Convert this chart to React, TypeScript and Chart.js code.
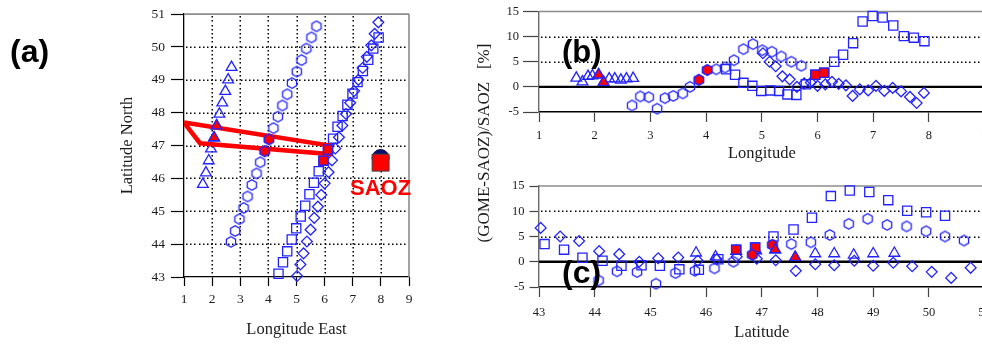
import React, { useEffect, useRef } from 'react';
import { Chart, registerables } from 'chart.js';

Chart.register(...registerables);

// ---------------- data ----------------
// Four GOME overpass tracks: ground-pixel longitude (°E), latitude (°N)
// and relative difference (GOME-SAOZ)/SAOZ in %.
const triLon = [1.67, 1.78, 1.88, 1.96, 2.07, 2.16, 2.26, 2.36, 2.47, 2.57, 2.69];
const triLat = [45.82, 46.17, 46.54, 46.9, 47.24, 47.6, 47.96, 48.3, 48.65, 49.0, 49.38];
const triDiff = [1.75, 1.0, 2.1, 2.2, 2.4, 0.9, 1.6, 1.6, 1.35, 1.6, 1.7];
const triSelected = [4, 5];

const hexLon = [2.67, 2.82, 2.97, 3.12, 3.26, 3.41, 3.58, 3.71, 3.87, 4.02, 4.18, 4.34, 4.5, 4.67, 4.84, 5.01, 5.18, 5.35, 5.53, 5.71];
const hexLat = [44.07, 44.4, 44.76, 45.1, 45.45, 45.8, 46.15, 46.49, 46.83, 47.19, 47.53, 47.88, 48.22, 48.56, 48.9, 49.25, 49.6, 49.95, 50.29, 50.63];
const hexDiff = [-3.7, -1.9, -2.05, -4.35, -2.25, -1.8, -1.3, 0.0, 1.4, 3.35, 3.5, 3.85, 5.3, 7.5, 8.5, 7.3, 7.0, 6.05, 5.0, 4.2];
const hexSelected = [8, 9];

const sqLon = [4.36, 4.52, 4.67, 4.83, 4.99, 5.15, 5.31, 5.46, 5.62, 5.79, 5.96, 6.12, 6.3, 6.46, 6.64, 6.81, 6.99, 7.17, 7.36, 7.55, 7.73, 7.92];
const sqLat = [43.1, 43.45, 43.78, 44.14, 44.48, 44.84, 45.17, 45.52, 45.87, 46.22, 46.54, 46.88, 47.21, 47.57, 47.9, 48.24, 48.58, 48.93, 49.27, 49.61, 49.95, 50.29];
const sqDiff = [3.5, 2.4, 0.8, 0.2, -0.8, -0.7, -0.8, -1.5, -1.6, 0.5, 2.4, 2.8, 5.0, 6.4, 8.7, 13.0, 14.1, 13.8, 12.2, 10.1, 9.8, 9.1];
const sqSelected = [10, 11];

const dmLon = [5.02, 5.14, 5.25, 5.37, 5.5, 5.63, 5.76, 5.88, 6.0, 6.14, 6.26, 6.38, 6.51, 6.63, 6.76, 6.91, 7.05, 7.2, 7.35, 7.5, 7.66, 7.78, 7.91];
const dmLat = [43.03, 43.38, 43.72, 44.08, 44.44, 44.8, 45.14, 45.5, 45.85, 46.19, 46.55, 46.91, 47.25, 47.61, 47.96, 48.3, 48.66, 49.0, 49.36, 49.7, 50.05, 50.4, 50.75];
const dmDiff = [6.7, 5.0, 4.1, 2.1, 1.5, 0.0, 0.7, 0.85, 0.2, 0.5, 1.0, 0.6, 0.3, -1.8, -0.5, -0.7, 0.2, -0.8, -0.2, -0.9, -2.0, -3.2, -1.2];

// Collocation area outline (red polygon) in panel (a)
const polyLon = [1.0, 1.57, 6.15, 6.18, 1.0];
const polyLat = [47.7, 47.07, 46.74, 47.0, 47.7];

// SAOZ station
const saozLon = [7.99];
const saozLat = [46.48];
const saozCircleLat = [46.62];

// axis ranges and dotted grid positions
const mapLonRange = [1, 9];
const mapLatRange = [43, 51];
const diffRange = [-5, 15];
const mapLonGrid = [2, 3, 4, 5, 6, 7, 8];
const mapLatGrid = [44, 45, 46, 47, 48, 49, 50];
const diffGrid = [5, 10];

// ---------------- styling ----------------
const BLUE = '#2323ff';
const RED = '#ff0000';
const NONE = 'rgba(0,0,0,0)';
const SERIF = "'Liberation Serif', 'Times New Roman', Times, serif";
const SANS = "'Liberation Sans', Arial, Helvetica, sans-serif";
const INK = '#1c1c1c';

Chart.defaults.font.family = SERIF;

const xy = (xs: number[], ys: number[]) => xs.map((x, i) => ({ x, y: ys[i] }));
const pick = (arr: any[], idx: number[]) => idx.map((i) => arr[i]);

function hexImage(fill: string, stroke: string, r: number, lw: number) {
  const size = Math.ceil(2 * r + lw * 2 + 2);
  const c = document.createElement('canvas');
  c.width = size;
  c.height = size;
  const g = c.getContext('2d') as CanvasRenderingContext2D;
  g.beginPath();
  for (let i = 0; i < 6; i++) {
    const a = Math.PI / 2 + (i * Math.PI) / 3;
    const px = size / 2 + r * Math.cos(a);
    const py = size / 2 + r * Math.sin(a);
    if (i === 0) g.moveTo(px, py);
    else g.lineTo(px, py);
  }
  g.closePath();
  if (fill) {
    g.fillStyle = fill;
    g.fill();
  }
  g.strokeStyle = stroke;
  g.lineWidth = lw;
  g.stroke();
  return c;
}

function markerDatasets(useLat: boolean, useDiff: boolean) {
  const hexBlue = hexImage('', BLUE, 5.3, 1.3);
  const hexRed = hexImage(RED, BLUE, 5.3, 1.3);
  const tracks = [
    { lon: triLon, lat: triLat, diff: triDiff, sel: triSelected, style: 'triangle', r: 6.2 },
    { lon: hexLon, lat: hexLat, diff: hexDiff, sel: hexSelected, style: 'hex', r: 5 },
    { lon: sqLon, lat: sqLat, diff: sqDiff, sel: sqSelected, style: 'rect', r: 6.5 },
    { lon: dmLon, lat: dmLat, diff: dmDiff, sel: [] as number[], style: 'rectRot', r: 5.4 },
  ];
  const sets: any[] = [];
  for (const t of tracks) {
    const xs = useDiff ? (useLat ? t.lat : t.lon) : t.lon;
    const ys = useDiff ? t.diff : t.lat;
    const pts = xy(xs, ys);
    const common = {
      clip: false,
      pointRadius: t.r,
      pointBorderWidth: 1.3,
      pointBorderColor: BLUE,
      showLine: false,
    };
    sets.push({
      ...common,
      data: pts,
      order: 3,
      pointStyle: t.style === 'hex' ? hexBlue : t.style,
      pointBackgroundColor: NONE,
    });
    if (t.sel.length) {
      sets.push({
        ...common,
        data: pick(pts, t.sel),
        order: 0,
        pointStyle: t.style === 'hex' ? hexRed : t.style,
        pointBackgroundColor: RED,
      });
    }
  }
  return sets;
}

type Txt = {
  text: string;
  x: number;
  y: number;
  font: string;
  color: string;
  align?: CanvasTextAlign;
  baseline?: CanvasTextBaseline;
  rot?: number;
};

const textPlugin = (id: string, items: Txt[], ox: number, oy: number) => ({
  id,
  afterDraw(chart: any) {
    const ctx = chart.ctx;
    for (const t of items) {
      ctx.save();
      ctx.translate(t.x - ox, t.y - oy);
      if (t.rot) ctx.rotate(t.rot);
      ctx.font = t.font;
      ctx.fillStyle = t.color;
      ctx.textAlign = t.align || 'left';
      ctx.textBaseline = t.baseline || 'alphabetic';
      ctx.fillText(t.text, 0, 0);
      ctx.restore();
    }
  },
});

// dotted grid (drawn as small dots), grey top/right frame and the bold zero line
const framePlugin = (id: string, xGrid: number[], yGrid: number[], withRight: boolean, withZero: boolean) => ({
  id,
  beforeDatasetsDraw(chart: any) {
    const { ctx, chartArea: a, scales } = chart;
    ctx.save();
    ctx.fillStyle = '#000';
    const step = 4.2;
    for (const v of xGrid) {
      const px = Math.round(scales.x.getPixelForValue(v));
      for (let y = a.top + 2; y < a.bottom - 1; y += step) {
        ctx.fillRect(px - 0.5, Math.round(y), 1.5, 1.5);
      }
    }
    for (const v of yGrid) {
      const py = Math.round(scales.y.getPixelForValue(v));
      for (let x = a.left + 2; x < a.right - 1; x += step) {
        ctx.fillRect(Math.round(x), py - 0.5, 1.5, 1.5);
      }
    }

    ctx.strokeStyle = '#8c8c8c';
    ctx.lineWidth = 1.6;
    ctx.beginPath();
    ctx.moveTo(a.left, a.top);
    ctx.lineTo(a.right, a.top);
    if (withRight) {
      ctx.moveTo(a.right, a.top);
      ctx.lineTo(a.right, a.bottom);
    }
    ctx.stroke();
    if (withZero) {
      const y = scales.y.getPixelForValue(0);
      ctx.strokeStyle = '#000';
      ctx.lineWidth = 2.4;
      ctx.beginPath();
      ctx.moveTo(a.left, y);
      ctx.lineTo(a.right, y);
      ctx.stroke();
    }
    ctx.restore();
  },
});

// layout (page pixels)
const A_LEFT = 0, A_W = 430;
const BC_LEFT = 440, BC_W = 560;

function configA(): any {
  const datasets: any[] = [
    {
      data: xy(polyLon, polyLat),
      showLine: true,
      borderColor: RED,
      borderWidth: 4.5,
      borderJoinStyle: 'miter',
      pointRadius: 0,
      fill: false,
      tension: 0,
      order: 1,
    },
    ...markerDatasets(false, false),
    {
      data: xy(saozLon, saozCircleLat),
      pointStyle: 'circle',
      pointRadius: 8.5,
      pointBackgroundColor: '#0d0d6b',
      pointBorderColor: '#0d0d6b',
      pointBorderWidth: 1,
      clip: false,
      order: 0,
    },
    {
      data: xy(saozLon, saozLat),
      pointStyle: 'rect',
      pointRadius: 12,
      pointBackgroundColor: RED,
      pointBorderColor: '#444',
      pointBorderWidth: 1,
      clip: false,
      order: -1,
    },
  ];
  return {
    type: 'scatter',
    data: { datasets },
    options: {
      responsive: false,
      animation: false,
      events: [],
      layout: { padding: { left: 0, top: 11, right: A_W - 409, bottom: 0 } },
      plugins: { legend: { display: false }, tooltip: { enabled: false } },
      scales: {
        x: {
          type: 'linear',
          min: mapLonRange[0],
          max: mapLonRange[1],
          ticks: { stepSize: 1, autoSkip: false, maxRotation: 0, padding: 5, color: INK, font: { family: SERIF, size: 13.5 } },
          grid: { drawOnChartArea: false, tickLength: 9, tickColor: '#000', tickWidth: 1.2 },
          border: { display: true, color: '#000', width: 1.3 },
          title: { display: true, text: 'Longitude East', color: INK, font: { family: SERIF, size: 16.5 }, padding: { top: 0, bottom: 4 } },
          afterFit: (s: any) => { s.height = 344 - 277; },
        },
        y: {
          type: 'linear',
          min: mapLatRange[0],
          max: mapLatRange[1],
          ticks: { stepSize: 1, autoSkip: false, padding: 6, color: INK, font: { family: SERIF, size: 13.5 } },
          grid: { drawOnChartArea: false, tickLength: 13, tickColor: '#000', tickWidth: 1.2 },
          border: { display: true, color: '#000', width: 1.3 },
          title: { display: true, text: 'Latitude North', color: INK, font: { family: SERIF, size: 16.5 }, padding: { top: 117.8, bottom: 0 } },
          afterFit: (s: any) => { s.width = 184; },
        },
      },
    },
    plugins: [
      framePlugin('frameA', mapLonGrid, mapLatGrid, true, false),
      textPlugin('textA', [
        { text: '(a)', x: 10, y: 61.5, font: `bold 32px ${SANS}`, color: '#000' },
        { text: 'SAOZ', x: 350, y: 195, font: `bold 22px ${SANS}`, color: RED },
      ], A_LEFT, 0),
    ],
  };
}

function configDiff(which: 'b' | 'c'): any {
  const isB = which === 'b';
  const datasets = markerDatasets(!isB, true);
  const texts: Txt[] = isB
    ? [
        { text: '(b)', x: 562, y: 62, font: `bold 31px ${SANS}`, color: '#000' },
        { text: '(GOME-SAOZ)/SAOZ   [%]', x: 484.5, y: 143, font: `17px ${SERIF}`, color: INK, align: 'center', baseline: 'middle', rot: -Math.PI / 2 },
      ]
    : [{ text: '(c)', x: 562, y: 282.5, font: `bold 32px ${SANS}`, color: '#000' }];
  return {
    type: 'scatter',
    data: { datasets },
    options: {
      responsive: false,
      animation: false,
      events: [],
      layout: {
        padding: isB
          ? { left: 0, top: 11, right: 15.4, bottom: 172 }
          : { left: 0, top: 186, right: 15.4, bottom: 0 },
      },
      plugins: { legend: { display: false }, tooltip: { enabled: false } },
      scales: {
        x: {
          type: 'linear',
          min: isB ? mapLonRange[0] : mapLatRange[0],
          max: isB ? mapLonRange[1] : mapLatRange[1],
          ticks: { stepSize: 1, autoSkip: false, maxRotation: 0, padding: isB ? 6.5 : 8, color: INK, font: { family: SERIF, size: 12.5 } },
          grid: { drawOnChartArea: false, tickLength: 10, tickColor: '#444', tickWidth: 1.2 },
          border: { display: true, color: '#000', width: 1.6 },
          title: { display: true, text: isB ? 'Longitude' : 'Latitude', color: INK, font: { family: SERIF, size: 16.5 }, padding: { top: 0, bottom: isB ? 8.7 : 1.7 } },
          afterFit: (s: any) => { s.height = isB ? 172 - 112 : 344 - 287; },
        },
        y: {
          type: 'linear',
          min: diffRange[0],
          max: diffRange[1],
          ticks: { stepSize: 5, autoSkip: false, padding: isB ? 4 : 5, color: INK, font: { family: SERIF, size: 12.5 } },
          grid: { drawOnChartArea: false, tickLength: isB ? 16 : 9.5, tickColor: '#444', tickWidth: 1.2 },
          border: { display: true, color: '#6a6a6a', width: 1.4 },
          afterFit: (s: any) => { s.width = 99; },
        },
      },
    },
    plugins: [
      framePlugin('frame' + which, [], diffGrid, false, true),
      textPlugin('text' + which, texts, BC_LEFT, 0),
    ],
  };
}

export default function App() {
  const aRef = useRef<HTMLCanvasElement>(null);
  const bRef = useRef<HTMLCanvasElement>(null);
  const cRef = useRef<HTMLCanvasElement>(null);

  useEffect(() => {
    const charts = [
      new Chart(aRef.current as HTMLCanvasElement, configA()),
      new Chart(bRef.current as HTMLCanvasElement, configDiff('b')),
      new Chart(cRef.current as HTMLCanvasElement, configDiff('c')),
    ];
    return () => charts.forEach((c) => c.destroy());
  }, []);

  return (
    <div style={{ position: 'absolute', left: 0, top: 0, width: 982, height: 344, overflow: 'hidden', background: '#fff' }}>
      <canvas ref={aRef} width={A_W} height={344} style={{ position: 'absolute', left: A_LEFT, top: 0 }} />
      <canvas ref={bRef} width={BC_W} height={344} style={{ position: 'absolute', left: BC_LEFT, top: 0 }} />
      <canvas ref={cRef} width={BC_W} height={344} style={{ position: 'absolute', left: BC_LEFT, top: 0 }} />
    </div>
  );
}
